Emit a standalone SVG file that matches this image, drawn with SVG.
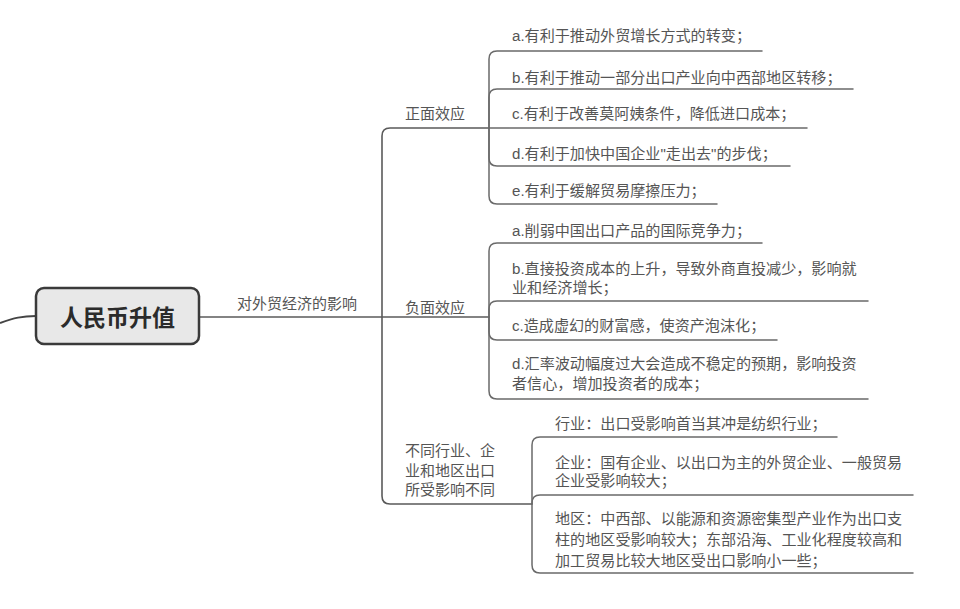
<svg xmlns="http://www.w3.org/2000/svg" width="960" height="609" viewBox="0 0 960 609">
<style>
.ln{fill:none;stroke:#6a6a6a;stroke-width:1.5;stroke-linecap:round}
.tr{fill:none;stroke:#5a5a5a;stroke-width:1.6}
.t{font-family:"Liberation Sans","Noto Sans CJK SC",sans-serif;font-size:15.1px;fill:#555}
.l{font-family:"Liberation Sans","Noto Sans CJK SC",sans-serif;font-size:15px;fill:#555}
.m{font-family:"Noto Sans CJK SC","Liberation Sans",sans-serif;font-size:23px;font-weight:bold;fill:#2b2b2b}
</style>
<rect width="960" height="609" fill="#fff"/>
<g id="connectors">
<path d="M0,323 C14,318 22,316 36,316" fill="none" stroke="#444" stroke-width="2"/>
<path class="tr" d="M199,317 H382"/>
<path class="tr" d="M382,317 V136 Q382,128 390,128 H489"/>
<path class="tr" d="M382,317 H489"/>
<path class="tr" d="M382,317 V496 Q382,504 390,504 H532"/>
<path class="ln" d="M489,128 V59 Q489,51 497,51 H762"/>
<path class="ln" d="M489,128 V97 Q489,89 497,89 H853"/>
<path class="ln" d="M489,128 H807"/>
<path class="ln" d="M489,128 V158 Q489,166 497,166 H790"/>
<path class="ln" d="M489,128 V196 Q489,204 497,204 H717"/>
<path class="ln" d="M489,317 V251 Q489,243 497,243 H762"/>
<path class="ln" d="M489,317 V309 Q489,301 497,301 H868"/>
<path class="ln" d="M489,317 V332 Q489,340 497,340 H777"/>
<path class="ln" d="M489,317 V391 Q489,399 497,399 H868"/>
<path class="ln" d="M532,504 V445 Q532,437 540,437 H837"/>
<path class="ln" d="M532,504 V503 Q532,495 540,495 H913"/>
<path class="ln" d="M532,504 V565 Q532,573 540,573 H913"/>
</g>
<g id="root">
<rect x="36" y="288" width="163" height="56" rx="8" fill="#e8e8e8" stroke="#3a3a3a" stroke-width="2.5"/>
<text class="m" x="117.5" y="326" text-anchor="middle">人民币升值</text>
</g>
<g id="trade"><text class="l" x="237" y="308.5">对外贸经济的影响</text></g>
<g id="pos"><text class="l" x="405" y="118.5">正面效应</text></g>
<g id="pos-a"><text class="t" x="512" y="41">a.有利于推动外贸增长方式的转变；</text></g>
<g id="pos-b"><text class="t" x="512" y="82.5">b.有利于推动一部分出口产业向中西部地区转移；</text></g>
<g id="pos-c"><text class="t" x="512" y="118.5">c.有利于改善莫阿姨条件，降低进口成本；</text></g>
<g id="pos-d"><text class="t" x="512" y="158.5">d.有利于加快中国企业"走出去"的步伐；</text></g>
<g id="pos-e"><text class="t" x="512" y="195.5">e.有利于缓解贸易摩擦压力；</text></g>
<g id="neg"><text class="l" x="405" y="312.5">负面效应</text></g>
<g id="neg-a"><text class="t" x="512" y="235.5">a.削弱中国出口产品的国际竞争力；</text></g>
<g id="neg-b"><text class="t" x="512" y="273.5">b.直接投资成本的上升，导致外商直投减少，影响就</text><text class="t" x="512" y="292.5">业和经济增长；</text></g>
<g id="neg-c"><text class="t" x="512" y="330.5">c.造成虚幻的财富感，使资产泡沫化；</text></g>
<g id="neg-d"><text class="t" x="512" y="368.5">d.汇率波动幅度过大会造成不稳定的预期，影响投资</text><text class="t" x="512" y="388.5">者信心，增加投资者的成本；</text></g>
<g id="diff"><text class="l" x="405" y="455.5">不同行业、企</text><text class="l" x="405" y="475.5">业和地区出口</text><text class="l" x="405" y="495">所受影响不同</text></g>
<g id="diff-a"><text class="t" x="555" y="428.5">行业：出口受影响首当其冲是纺织行业；</text></g>
<g id="diff-b"><text class="t" x="555" y="467.5">企业：国有企业、以出口为主的外贸企业、一般贸易</text><text class="t" x="555" y="486">企业受影响较大；</text></g>
<g id="diff-c"><text class="t" x="555" y="523.5">地区：中西部、以能源和资源密集型产业作为出口支</text><text class="t" x="555" y="545">柱的地区受影响较大；东部沿海、工业化程度较高和</text><text class="t" x="555" y="566">加工贸易比较大地区受出口影响小一些；</text></g>
</svg>
